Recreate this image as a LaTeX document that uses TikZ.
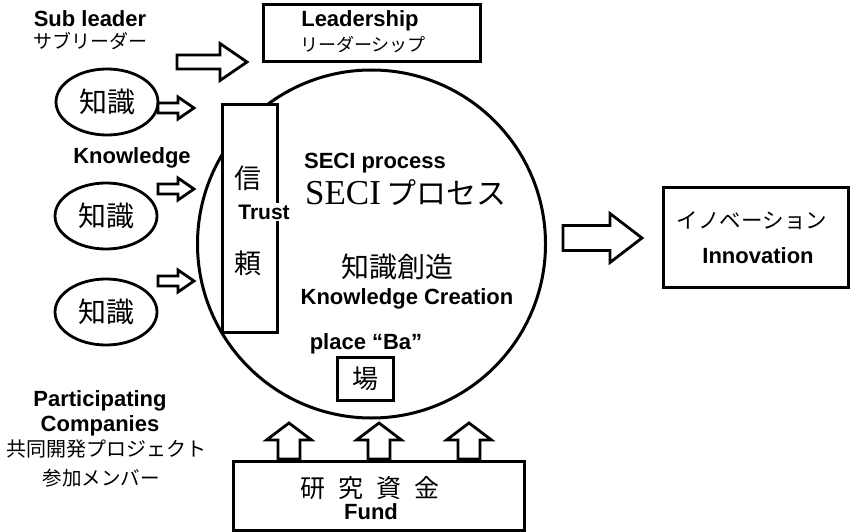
\documentclass[tikz,border=0pt]{standalone}
\usepackage{fontspec}
\setmainfont{Liberation Sans}
\newfontfamily\jp{Noto Sans CJK JP}
\newfontfamily\romanlat{Liberation Serif}

% right-pointing block arrow: start x, centre y, tip x, shaft half, head half, head length
\newcommand\rightblock[6]{%
  \draw[blockarrow] (#1,#2-#4) -- (#3-#6,#2-#4) -- (#3-#6,#2-#5) -- (#3,#2)
    -- (#3-#6,#2+#5) -- (#3-#6,#2+#4) -- (#1,#2+#4) -- cycle;}
% upward block arrow: centre x, tip y, head base y, bottom y, shaft half, head half
\newcommand\upblock[6]{%
  \draw[blockarrow] (#1-#5,#4) -- (#1-#5,#3) -- (#1-#6,#3) -- (#1,#2)
    -- (#1+#6,#3) -- (#1+#5,#3) -- (#1+#5,#4) -- cycle;}

\tikzset{
  en/.style={font=\bfseries\fontsize{22}{24}\selectfont, inner sep=0pt},
  ja/.style={font=\jp\fontsize{#1}{#1}\selectfont, inner sep=0pt},
  ja/.default=20,
  frame/.style={draw, line width=3pt, fill=white},
  blockarrow/.style={draw, line width=2.8pt, fill=white, line join=miter},
  knowbubble/.style={draw, ellipse, line width=2.8pt, minimum width=102pt, minimum height=66pt, inner sep=0pt},
}
\usetikzlibrary{shapes.geometric}

\begin{document}
\begin{tikzpicture}[x=1pt, y=-1pt]
\useasboundingbox (0,0) rectangle (851,532);

% the SECI circle
\node[draw, circle, line width=3pt, minimum size=348pt, inner sep=0pt] (seci) at (371.5,244) {};

% trust column in front of the circle
\node[frame, minimum width=55pt, minimum height=227pt, inner sep=0pt] (trust) at (249.5,218.5) {};
\node[ja=27] (shin) at (248,178) {信};
\node[en, font=\bfseries\fontsize{21}{23}\selectfont, fill=white, inner sep=1.5pt] (trusttxt) at (264,212) {Trust};
\node[ja=27] (rai) at (248,263) {頼};

% leadership
\node[frame, minimum width=217pt, minimum height=57pt, inner sep=0pt] (lead) at (371.5,33.5) {};
\node[en] (leaden) at (360,21) {Leadership};
\node[ja=18] (leadja) at (363,45) {リーダーシップ};

% sub leader
\node[en] (suben) at (90,19) {Sub leader};
\node[ja=19] (subja) at (90,41) {サブリーダー};
\rightblock{177}{62}{247}{7}{18.5}{27}

% knowledge bubbles
\node[knowbubble] (k1) at (107,102) {};
\node[ja=28] at (k1) {知識};
\node[en] (knowen) at (132,158) {Knowledge};
\node[knowbubble] (k2) at (106,216) {};
\node[ja=28] at (k2) {知識};
\node[knowbubble] (k3) at (106,312) {};
\node[ja=28] at (k3) {知識};
\rightblock{158}{108}{194}{5}{11}{16}
\rightblock{158}{189}{194}{5}{11}{16}
\rightblock{158}{281}{194}{5}{11}{16}

% inside the circle
\node[en] (seciEn) at (375,163) {SECI process};
\node[inner sep=0pt] (seciJa) at (406,193) {{\romanlat\fontsize{35}{35}\selectfont SECI}\hspace{6pt}{\jp\fontsize{30}{30}\selectfont プロセス}};
\node[ja=28] (souzou) at (397,267) {知識創造};
\node[en] (creation) at (407,299) {Knowledge Creation};
\node[en] (baen) at (366,344) {place “Ba”};
\node[frame, minimum width=56pt, minimum height=43pt, inner sep=0pt] (ba) at (365,378.5) {};
\node[ja=26] at (ba) {場};

% innovation
\rightblock{563}{238}{642}{12.5}{24.5}{32}
\node[frame, minimum width=185pt, minimum height=100pt, inner sep=0pt] (innov) at (755.5,237) {};
\node[ja=21.5] (innovja) at (752,221) {イノベーション};
\node[en] (innoven) at (758,256) {Innovation};

% participating companies
\node[en] (part1) at (100,401) {Participating};
\node[en] (part2) at (100,426) {Companies};
\node[ja=20] (part3) at (106,449) {共同開発プロジェクト};
\node[ja=19.5] (part4) at (101,478) {参加メンバー};

% fund
\node[frame, minimum width=291pt, minimum height=69pt, inner sep=0pt] (fund) at (378.5,495.5) {};
\node[ja=25] (fundja) at (370,488) {研\hspace{13pt}究\hspace{13pt}資\hspace{13pt}金};
\node[en] (funden) at (371,512) {Fund};
\upblock{289}{423}{440}{459}{11}{22.5}
\upblock{379}{423}{440}{459}{11}{22.5}
\upblock{469}{423}{440}{459}{11}{22.5}
\end{tikzpicture}
\end{document}
